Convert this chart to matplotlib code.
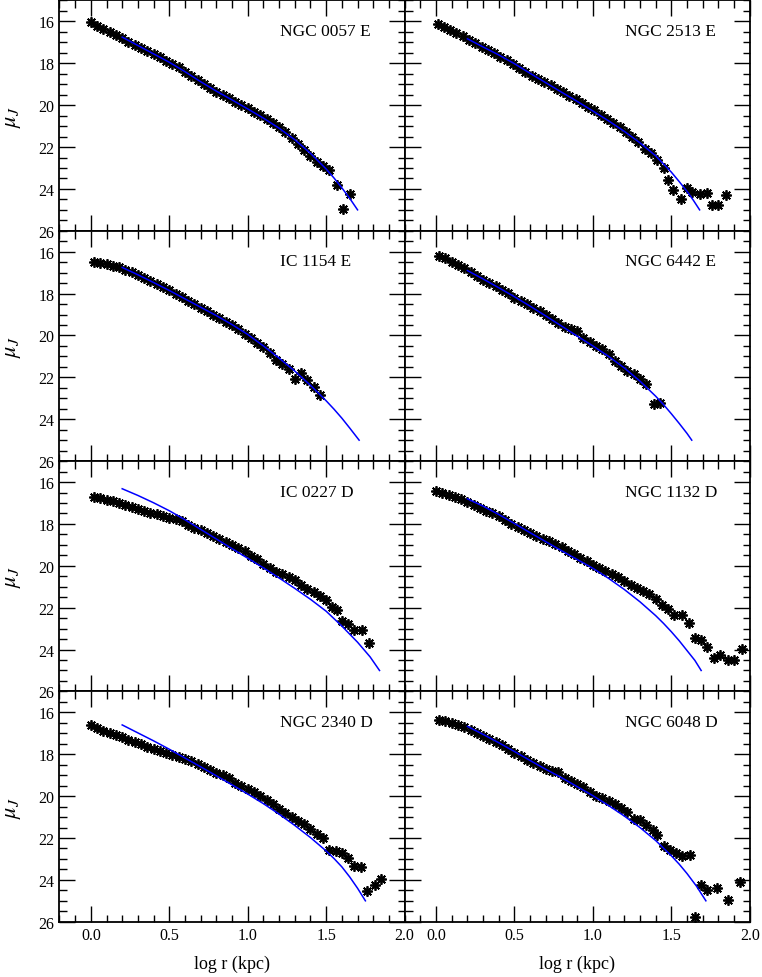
import matplotlib
matplotlib.use("Agg")
import matplotlib.pyplot as plt
from matplotlib.ticker import MultipleLocator, FormatStrFormatter

plt.rcParams['font.family'] = ['Liberation Serif', 'DejaVu Serif']
plt.rcParams['mathtext.fontset'] = 'stix'

# ---- data: log r (kpc) and mu_J for each galaxy, plus the model curve ----
names = ['NGC 0057 E', 'NGC 2513 E', 'IC 1154 E', 'NGC 6442 E',
         'IC 0227 D', 'NGC 1132 D', 'NGC 2340 D', 'NGC 6048 D']

n0057_x = [0.00, 0.04, 0.08, 0.12, 0.16, 0.20, 0.24, 0.28, 0.32, 0.36, 0.40, 0.44, 0.48,
           0.52, 0.56, 0.60, 0.64, 0.68, 0.72, 0.76, 0.80, 0.84, 0.88, 0.92, 0.96, 1.00,
           1.04, 1.08, 1.12, 1.16, 1.20, 1.24, 1.28, 1.32, 1.36, 1.40, 1.44, 1.48, 1.52,
           1.57, 1.61, 1.65]
n0057_mu = [16.05, 16.2, 16.35, 16.52, 16.66, 16.8, 16.97, 17.12, 17.27, 17.42, 17.55, 17.72,
            17.88, 18.03, 18.2, 18.4, 18.6, 18.8, 18.98, 19.17, 19.35, 19.5, 19.68, 19.83,
            19.98, 20.15, 20.32, 20.48, 20.65, 20.85, 21.05, 21.3, 21.55, 21.85, 22.15,
            22.45, 22.7, 22.9, 23.1, 23.8, 24.97, 24.22]
n0057_fx = [0.2, 0.3, 0.4, 0.5, 0.6, 0.7, 0.8, 0.9, 1.0, 1.1, 1.2, 1.3, 1.4, 1.5, 1.55, 1.6, 1.65, 1.7]
n0057_fmu = [16.75, 17.15, 17.55, 17.95, 18.4, 18.88, 19.33, 19.75, 20.18, 20.62, 21.1, 21.65,
             22.3, 23.05, 23.48, 23.95, 24.45, 25.0]

n2513_x = [0.01, 0.05, 0.09, 0.13, 0.17, 0.21, 0.25, 0.29, 0.33, 0.37, 0.41, 0.45, 0.49,
           0.53, 0.57, 0.61, 0.65, 0.69, 0.73, 0.77, 0.81, 0.85, 0.89, 0.93, 0.97, 1.01,
           1.05, 1.09, 1.13, 1.17, 1.21, 1.25, 1.29, 1.33, 1.37, 1.41, 1.45,
           1.48, 1.51, 1.56, 1.60, 1.63, 1.68, 1.73, 1.76, 1.80, 1.85]
n2513_mu = [16.12, 16.28, 16.42, 16.57, 16.72, 16.88, 17.03, 17.2, 17.35, 17.52, 17.68, 17.85,
            18.03, 18.22, 18.42, 18.6, 18.75, 18.9, 19.06, 19.22, 19.38, 19.55, 19.7, 19.88,
            20.07, 20.25, 20.45, 20.65, 20.85, 21.05, 21.3, 21.52, 21.75, 22.1, 22.3, 22.6,
            23.0, 23.56, 24.04, 24.47, 23.96, 24.17, 24.23, 24.2, 24.79, 24.76, 24.28]
n2513_fx = [0.2, 0.3, 0.4, 0.5, 0.6, 0.7, 0.8, 0.9, 1.0, 1.1, 1.2, 1.3, 1.4, 1.5, 1.55, 1.6,
            1.64, 1.68]
n2513_fmu = [16.83, 17.22, 17.6, 18.02, 18.48, 18.93, 19.38, 19.82, 20.28, 20.75, 21.25, 21.8,
             22.42, 23.2, 23.65, 24.12, 24.54, 25.0]

ic1154_x = [0.02, 0.06, 0.10, 0.14, 0.18, 0.22, 0.26, 0.30, 0.34, 0.38, 0.42, 0.46, 0.50,
            0.54, 0.58, 0.62, 0.66, 0.70, 0.74, 0.78, 0.82, 0.86, 0.90, 0.94, 0.98, 1.02,
            1.06, 1.10, 1.14, 1.18, 1.22, 1.26, 1.30, 1.34, 1.38, 1.42, 1.46]
ic1154_mu = [16.5, 16.55, 16.6, 16.67, 16.75, 16.85, 16.98, 17.12, 17.25, 17.38, 17.52, 17.68,
             17.83, 18.0, 18.17, 18.35, 18.5, 18.67, 18.85, 19.0, 19.15, 19.35, 19.52, 19.7,
             19.92, 20.12, 20.35, 20.55, 20.85, 21.15, 21.35, 21.6, 22.1, 21.8, 22.15, 22.45,
             22.85]
ic1154_fx = [0.2, 0.3, 0.4, 0.5, 0.6, 0.7, 0.8, 0.9, 1.0, 1.1, 1.2, 1.3, 1.4, 1.5, 1.55, 1.6,
             1.65, 1.71]
ic1154_fmu = [16.75, 17.1, 17.47, 17.85, 18.25, 18.65, 19.05, 19.48, 19.95, 20.5, 21.08, 21.7,
              22.38, 23.12, 23.52, 23.95, 24.42, 25.0]

n6442_x = [0.02, 0.06, 0.10, 0.14, 0.18, 0.22, 0.26, 0.30, 0.34, 0.38, 0.42, 0.46, 0.50,
           0.54, 0.58, 0.62, 0.66, 0.70, 0.74, 0.78, 0.82, 0.86, 0.90, 0.94, 0.98, 1.02,
           1.06, 1.10, 1.14, 1.18, 1.22, 1.26, 1.30, 1.34, 1.39, 1.43]
n6442_mu = [16.2, 16.32, 16.47, 16.62, 16.78, 16.97, 17.15, 17.35, 17.5, 17.65, 17.82, 17.98,
            18.2, 18.35, 18.52, 18.68, 18.85, 19.02, 19.2, 19.42, 19.58, 19.7, 19.8, 20.1,
            20.3, 20.5, 20.65, 20.9, 21.2, 21.45, 21.7, 21.82, 22.1, 22.3, 23.28, 23.22]
n6442_fx = [0.2, 0.3, 0.4, 0.5, 0.6, 0.7, 0.8, 0.9, 1.0, 1.1, 1.2, 1.3, 1.4, 1.45, 1.5, 1.55,
            1.6, 1.63]
n6442_fmu = [16.9, 17.3, 17.72, 18.15, 18.6, 19.07, 19.55, 20.03, 20.5, 21.0, 21.55, 22.18,
             22.9, 23.3, 23.74, 24.2, 24.68, 25.0]

ic0227_x = [0.02, 0.06, 0.10, 0.14, 0.18, 0.22, 0.26, 0.30, 0.34, 0.38, 0.42, 0.46, 0.50,
            0.54, 0.58, 0.62, 0.66, 0.70, 0.74, 0.78, 0.82, 0.86, 0.90, 0.94, 0.98, 1.02,
            1.06, 1.10, 1.14, 1.18, 1.22, 1.26, 1.30, 1.34, 1.38, 1.42, 1.46, 1.50, 1.54,
            1.57, 1.60, 1.64, 1.68, 1.73, 1.77]
ic0227_mu = [16.72, 16.78, 16.84, 16.9, 16.98, 17.08, 17.18, 17.3, 17.38, 17.47, 17.55, 17.62,
             17.7, 17.78, 17.88, 18.05, 18.2, 18.3, 18.42, 18.58, 18.72, 18.88, 19.0, 19.15,
             19.3, 19.52, 19.68, 19.9, 20.1, 20.28, 20.4, 20.52, 20.7, 20.9, 21.1, 21.25,
             21.42, 21.65, 21.95, 22.1, 22.65, 22.8, 23.05, 23.08, 23.7]
ic0227_fx = [0.2, 0.3, 0.4, 0.5, 0.6, 0.7, 0.8, 0.9, 1.0, 1.1, 1.2, 1.3, 1.4, 1.5, 1.6, 1.7,
             1.78, 1.84]
ic0227_fmu = [16.32, 16.64, 16.99, 17.37, 17.8, 18.26, 18.72, 19.18, 19.64, 20.1, 20.58, 21.08,
              21.6, 22.17, 22.88, 23.65, 24.35, 25.0]

n1132_x = [0.00, 0.04, 0.08, 0.12, 0.16, 0.20, 0.24, 0.28, 0.32, 0.36, 0.40, 0.44, 0.48,
           0.52, 0.56, 0.60, 0.64, 0.68, 0.72, 0.76, 0.80, 0.84, 0.88, 0.92, 0.96, 1.00,
           1.04, 1.08, 1.12, 1.16, 1.20, 1.24, 1.28, 1.32, 1.36, 1.40, 1.44, 1.48, 1.52,
           1.57, 1.61, 1.65, 1.69, 1.73, 1.77, 1.81, 1.86, 1.90, 1.95]
n1132_mu = [16.45, 16.52, 16.6, 16.7, 16.82, 16.95, 17.1, 17.25, 17.38, 17.5, 17.62, 17.8,
            17.98, 18.15, 18.3, 18.45, 18.58, 18.7, 18.82, 18.95, 19.1, 19.27, 19.45, 19.62,
            19.78, 19.95, 20.1, 20.25, 20.4, 20.55, 20.72, 20.9, 21.05, 21.2, 21.35, 21.58,
            21.85, 22.05, 22.35, 22.35, 22.75, 23.46, 23.54, 23.86, 24.39, 24.26, 24.5, 24.5,
            23.97]
n1132_fx = [0.2, 0.3, 0.4, 0.5, 0.6, 0.7, 0.8, 0.9, 1.0, 1.1, 1.2, 1.3, 1.4, 1.45, 1.5, 1.55,
            1.6, 1.65, 1.69]
n1132_fmu = [16.8, 17.15, 17.55, 17.98, 18.42, 18.85, 19.28, 19.7, 20.12, 20.6, 21.13, 21.72,
             22.38, 22.75, 23.15, 23.58, 24.05, 24.52, 25.0]

n2340_x = [0.00, 0.04, 0.08, 0.12, 0.16, 0.20, 0.24, 0.28, 0.32, 0.36, 0.40, 0.44, 0.48,
           0.52, 0.56, 0.60, 0.64, 0.68, 0.72, 0.76, 0.80, 0.84, 0.88, 0.92, 0.96, 1.00,
           1.04, 1.08, 1.12, 1.16, 1.20, 1.24, 1.28, 1.32, 1.36, 1.40, 1.44, 1.48, 1.52,
           1.56, 1.60, 1.64, 1.68, 1.72, 1.76, 1.81, 1.85]
n2340_mu = [16.62, 16.75, 16.88, 16.98, 17.08, 17.18, 17.3, 17.42, 17.52, 17.65, 17.75, 17.85,
            17.95, 18.03, 18.12, 18.22, 18.32, 18.48, 18.62, 18.75, 18.88, 19.0, 19.15, 19.35,
            19.52, 19.68, 19.82, 19.98, 20.18, 20.38, 20.6, 20.8, 21.0, 21.18, 21.35, 21.55,
            21.8, 22.0, 22.55, 22.6, 22.72, 22.95, 23.35, 23.38, 24.52, 24.23, 23.95]
n2340_fx = [0.2, 0.3, 0.4, 0.5, 0.6, 0.7, 0.8, 0.9, 1.0, 1.1, 1.2, 1.3, 1.4, 1.5, 1.55, 1.6,
            1.65, 1.7, 1.75]
n2340_fmu = [16.6, 16.98, 17.36, 17.76, 18.18, 18.6, 19.03, 19.46, 19.9, 20.36, 20.86, 21.4,
             21.98, 22.62, 22.98, 23.38, 23.86, 24.4, 25.0]

n6048_x = [0.02, 0.06, 0.10, 0.14, 0.18, 0.22, 0.26, 0.30, 0.34, 0.38, 0.42, 0.46, 0.50,
           0.54, 0.58, 0.62, 0.66, 0.70, 0.74, 0.78, 0.82, 0.86, 0.90, 0.94, 0.98, 1.02,
           1.06, 1.10, 1.14, 1.18, 1.22, 1.26, 1.30, 1.34, 1.38, 1.41, 1.45, 1.49, 1.53,
           1.57, 1.62, 1.65, 1.69, 1.73, 1.79, 1.86, 1.94]
n6048_mu = [16.35, 16.42, 16.5, 16.6, 16.7, 16.85, 17.0, 17.13, 17.27, 17.42, 17.58, 17.75,
            17.92, 18.1, 18.26, 18.42, 18.58, 18.72, 18.8, 18.85, 19.12, 19.28, 19.42, 19.55,
            19.78, 19.98, 20.08, 20.25, 20.4, 20.58, 20.78, 21.1, 21.12, 21.38, 21.6, 21.85,
            22.4, 22.55, 22.72, 22.88, 22.8, 25.75, 24.23, 24.47, 24.39, 24.95, 24.1]
n6048_fx = [0.2, 0.3, 0.4, 0.5, 0.6, 0.7, 0.8, 0.9, 1.0, 1.1, 1.2, 1.3, 1.4, 1.5, 1.55, 1.6,
            1.66, 1.72]
n6048_fmu = [16.67, 17.05, 17.45, 17.87, 18.3, 18.72, 19.12, 19.55, 19.98, 20.45, 20.95, 21.5,
             22.12, 22.85, 23.25, 23.7, 24.3, 25.0]

profiles = [(n0057_x, n0057_mu, n0057_fx, n0057_fmu),
            (n2513_x, n2513_mu, n2513_fx, n2513_fmu),
            (ic1154_x, ic1154_mu, ic1154_fx, ic1154_fmu),
            (n6442_x, n6442_mu, n6442_fx, n6442_fmu),
            (ic0227_x, ic0227_mu, ic0227_fx, ic0227_fmu),
            (n1132_x, n1132_mu, n1132_fx, n1132_fmu),
            (n2340_x, n2340_mu, n2340_fx, n2340_fmu),
            (n6048_x, n6048_mu, n6048_fx, n6048_fmu)]

fig, axes = plt.subplots(4, 2, figsize=(7.62, 9.78), dpi=100, sharex=True, sharey=True)
plt.subplots_adjust(left=0.078, right=0.984, bottom=0.0565, top=0.9985, hspace=0, wspace=0)

for i, ax in enumerate(axes.flat):
    x, mu, fx, fmu = profiles[i]
    ax.plot(x, mu, ls='none', marker=(8, 2, 0), ms=7.5, mew=1.3, color='black', zorder=2)
    ax.plot(fx, fmu, color='#0000ff', lw=1.1, zorder=3)
    ax.text(0.638, 0.867, names[i], transform=ax.transAxes, ha='left', va='center',
            fontsize=12.5)

    ax.set_xlim(-0.2, 2.0)
    ax.set_ylim(26, 15)
    ax.xaxis.set_major_locator(MultipleLocator(0.5))
    ax.xaxis.set_minor_locator(MultipleLocator(0.1))
    ax.xaxis.set_major_formatter(FormatStrFormatter('%.1f'))
    ax.set_yticks([16, 18, 20, 22, 24, 26])
    ax.yaxis.set_minor_locator(MultipleLocator(0.5))
    ax.tick_params(which='both', direction='in', top=True, right=True, labelsize=11.5, width=1.0)
    ax.tick_params(which='major', length=11.5)
    ax.tick_params(which='minor', length=5.4)
    for sp in ax.spines.values():
        sp.set_linewidth(1.3)

    if i % 2 == 0:
        ax.set_ylabel(r'$\mu_J$', fontsize=16)
        ax.yaxis.set_label_coords(-0.105, 0.5)
    if i >= 6:
        ax.set_xlabel('log r (kpc)', fontsize=13)
        ax.xaxis.set_label_coords(0.5, -0.145)
        ax.tick_params(axis='x', labelbottom=True)

plt.savefig('out.png', dpi=100)
